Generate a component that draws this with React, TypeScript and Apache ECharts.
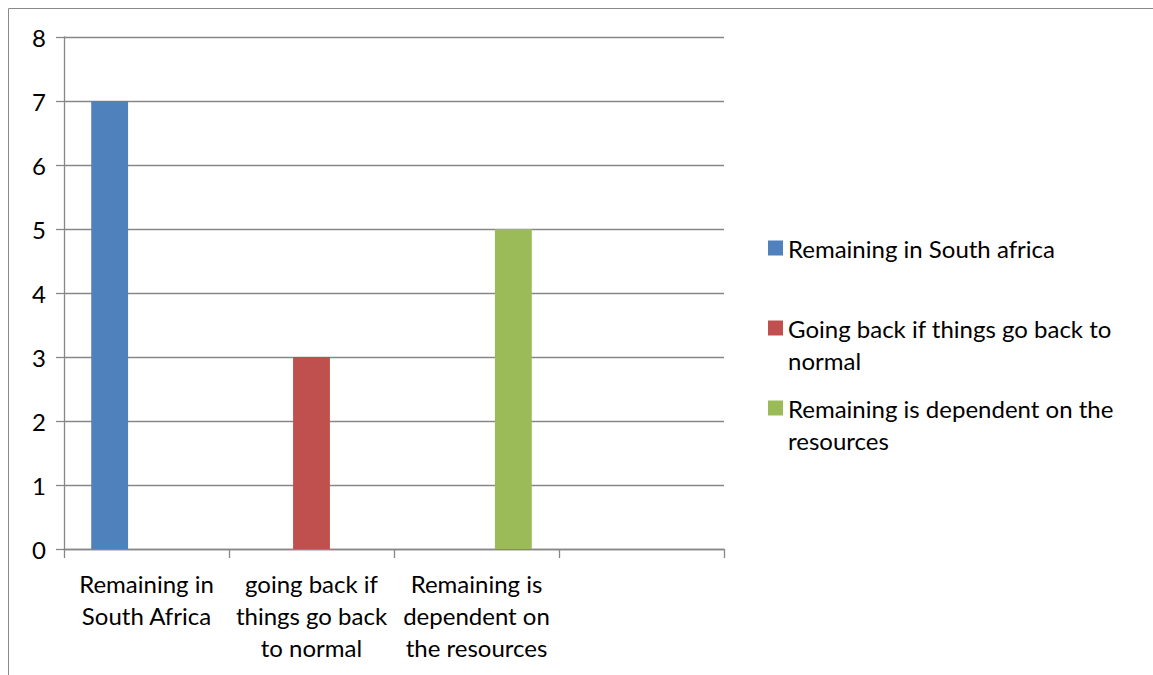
import React, { useEffect, useRef } from "react";
import * as echarts from "echarts";

const categories = [
  "Remaining in\nSouth Africa",
  "going back if\nthings go back\nto normal",
  "Remaining is\ndependent on\nthe resources",
  "",
];
const seriesNames = [
  "Remaining in South africa",
  "Going back if things go back to normal",
  "Remaining is dependent on the resources",
];
const legendLabels = [
  "Remaining in South africa",
  "\nGoing back if things go back to\nnormal",
  "\nRemaining is dependent on the\nresources",
];
const remainingValues = [7, null, null, null];
const goingBackValues = [null, 3, null, null];
const dependentValues = [null, null, 5, null];
const yTicks = { min: 0, max: 8, interval: 1 };
const colors = ["#4F81BD", "#C0504D", "#9BBB59"];

const FONT = "Lato";
const FS = 24;

export default function App() {
  const ref = useRef<HTMLDivElement>(null);
  useEffect(() => {
    if (!ref.current) return;
    const chart = echarts.init(ref.current, null, { renderer: "svg" });
    const values = [remainingValues, goingBackValues, dependentValues];
    const legendTops = [232, 280, 360];
    chart.setOption({
      animation: false,
      backgroundColor: "#ffffff",
      grid: { left: 64, right: 429, top: 37, bottom: 126 },
      legend: seriesNames.map((name, i) => ({
        data: [name],
        orient: "vertical",
        left: 768,
        top: legendTops[i],
        padding: 0,
        itemWidth: 15,
        itemHeight: 15,
        itemGap: 8,
        icon: "rect",
        formatter: () => legendLabels[i],
        textStyle: {
          fontFamily: FONT,
          fontSize: FS,
          color: "#000000",
          lineHeight: 32,
        },
      })),
      xAxis: {
        type: "category",
        data: categories,
        axisLine: { lineStyle: { color: "#878787", width: 1.3 } },
        axisTick: { show: true, length: 9, lineStyle: { color: "#878787", width: 1.3 }, alignWithLabel: false },
        axisLabel: {
          interval: 0,
          margin: 18,
          fontFamily: FONT,
          fontSize: FS,
          color: "#000000",
          lineHeight: 32,
          align: "center",
        },
        splitLine: { show: false },
      },
      yAxis: {
        type: "value",
        min: yTicks.min,
        max: yTicks.max,
        interval: yTicks.interval,
        axisLine: { show: true, lineStyle: { color: "#878787", width: 1.3 } },
        axisTick: { show: true, length: 8, lineStyle: { color: "#878787", width: 1.3 } },
        axisLabel: {
          margin: 18,
          fontFamily: FONT,
          fontSize: FS,
          color: "#000000",
        },
        splitLine: { show: true, lineStyle: { color: "#878787", width: 1.3 } },
      },
      series: seriesNames.map((name, i) => ({
        name,
        type: "bar",
        data: values[i],
        itemStyle: { color: colors[i] },
        barGap: "0%",
        barCategoryGap: "33%",
      })),
      graphic: [
        {
          type: "line",
          shape: { x1: 8.5, y1: 8.5, x2: 1153, y2: 8.5 },
          style: { stroke: "#8a8a8a", lineWidth: 1 },
        },
        {
          type: "line",
          shape: { x1: 8.5, y1: 8.5, x2: 8.5, y2: 675 },
          style: { stroke: "#8a8a8a", lineWidth: 1 },
        },
      ],
    });
    return () => chart.dispose();
  }, []);
  return (
    <div
      ref={ref}
      style={{ position: "fixed", left: 0, top: 0, width: 1153, height: 675, background: "#fff" }}
    />
  );
}
